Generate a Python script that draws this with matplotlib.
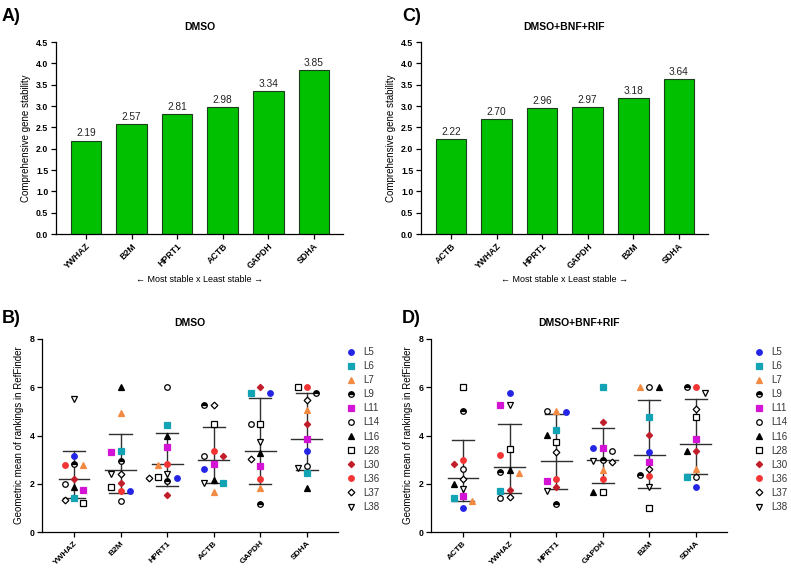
import numpy as np
import matplotlib
matplotlib.use("Agg")
import matplotlib.pyplot as plt
from matplotlib.lines import Line2D

plt.rcParams['font.family'] = ['Liberation Sans', 'DejaVu Sans']

# ---- data ----
lines = ['L5', 'L6', 'L7', 'L9', 'L11', 'L14', 'L16', 'L28', 'L30', 'L36', 'L37', 'L38']

genes_dmso = ['YWHAZ', 'B2M', 'HPRT1', 'ACTB', 'GAPDH', 'SDHA']
stab_dmso = [2.19, 2.57, 2.81, 2.98, 3.34, 3.85]

genes_mix = ['ACTB', 'YWHAZ', 'HPRT1', 'GAPDH', 'B2M', 'SDHA']
stab_mix = [2.22, 2.70, 2.96, 2.97, 3.18, 3.64]

# geometric mean of rankings per cell line (order as in `lines`)
dmso_ywhaz = [3.14, 1.43, 2.77, 2.81, 1.76, 2.00, 1.87, 1.19, 2.21, 2.79, 1.32, 5.50]
dmso_b2m = [1.71, 3.35, 4.93, 2.93, 3.32, 1.27, 6.00, 1.85, 2.03, 1.71, 2.42, 2.40]
dmso_hprt1 = [2.22, 4.44, 2.77, 2.10, 3.51, 6.00, 3.96, 2.30, 1.55, 2.83, 2.22, 2.39]
dmso_actb = [2.63, 2.05, 1.67, 5.25, 2.83, 3.17, 2.16, 4.46, 3.17, 3.35, 5.25, 2.05]
dmso_gapdh = [5.75, 5.75, 1.83, 1.15, 2.75, 4.47, 3.28, 4.47, 6.00, 2.20, 3.03, 3.72]
dmso_sdha = [3.35, 2.45, 5.05, 5.77, 3.85, 2.73, 1.84, 6.00, 4.47, 6.00, 5.46, 2.66]

mix_actb = [1.00, 1.40, 1.30, 5.00, 1.50, 2.60, 2.00, 6.00, 2.80, 3.00, 2.20, 1.80]
mix_ywhaz = [5.77, 1.68, 2.44, 2.48, 5.25, 1.40, 2.58, 3.42, 1.76, 3.18, 1.45, 5.25]
mix_hprt1 = [4.97, 4.24, 5.02, 1.15, 2.10, 5.02, 4.01, 3.72, 1.85, 2.19, 3.31, 1.72]
mix_gapdh = [3.47, 6.00, 2.58, 2.99, 3.47, 3.36, 1.67, 1.67, 4.56, 2.19, 2.90, 2.95]
mix_b2m = [3.31, 4.75, 6.00, 2.37, 2.90, 6.00, 6.00, 1.00, 4.01, 2.33, 2.63, 1.88]
mix_sdha = [1.85, 2.29, 2.60, 6.00, 3.86, 2.29, 3.35, 4.75, 3.35, 6.00, 5.09, 5.77]

ranks_dmso = [dmso_ywhaz, dmso_b2m, dmso_hprt1, dmso_actb, dmso_gapdh, dmso_sdha]
ranks_mix = [mix_actb, mix_ywhaz, mix_hprt1, mix_gapdh, mix_b2m, mix_sdha]

# marker style per cell line
styles = {
    'L5': dict(marker='o', markerfacecolor='#2424e6', markeredgecolor='#2424e6'),
    'L6': dict(marker='s', markerfacecolor='#12a3b5', markeredgecolor='#12a3b5'),
    'L7': dict(marker='^', markerfacecolor='#f28a44', markeredgecolor='#f28a44'),
    'L9': dict(marker='o', markerfacecolor='black', markerfacecoloralt='white',
               fillstyle='top', markeredgecolor='black'),
    'L11': dict(marker='s', markerfacecolor='#d414d4', markeredgecolor='#d414d4'),
    'L14': dict(marker='o', markerfacecolor='white', markeredgecolor='black'),
    'L16': dict(marker='^', markerfacecolor='black', markeredgecolor='black'),
    'L28': dict(marker='s', markerfacecolor='white', markeredgecolor='black'),
    'L30': dict(marker='D', markerfacecolor='#c21d2a', markeredgecolor='#c21d2a', markersize=3.2),
    'L36': dict(marker='o', markerfacecolor='#f23434', markeredgecolor='#f23434'),
    'L37': dict(marker='D', markerfacecolor='white', markeredgecolor='black', markersize=3.4),
    'L38': dict(marker='v', markerfacecolor='white', markeredgecolor='black'),
}

W, H = 791, 571
fig = plt.figure(figsize=(W / 100, H / 100), dpi=100)


def px_axes(left, top, right, bottom):
    return fig.add_axes([left / W, 1 - bottom / H, (right - left) / W, (bottom - top) / H])


def style_axis(ax):
    for s in ['top', 'right']:
        ax.spines[s].set_visible(False)
    for s in ['left', 'bottom']:
        ax.spines[s].set_linewidth(0.9)
    ax.tick_params(direction='out', length=3.5, width=0.9, pad=2)


def bar_panel(ax, genes, vals, title):
    x = np.arange(len(genes))
    ax.bar(x, vals, width=0.67, color='#00c000', edgecolor='#1a3f1a', linewidth=0.8)
    for xi, v in zip(x, vals):
        ax.text(xi, v + 0.05, f'{v:.2f}', ha='center', va='bottom', fontsize=7.3, color='#222222')
    ax.set_xlim(-0.66, len(genes) - 0.36)
    ax.set_ylim(0, 4.5)
    yt = np.arange(0, 4.51, 0.5)
    ax.set_yticks(yt, [f'{t:.1f}' for t in yt], fontsize=6.3, fontweight='bold')
    ax.set_xticks(x, genes, rotation=45, ha='right', rotation_mode='anchor',
                  fontsize=6.3, fontweight='bold')
    style_axis(ax)
    ax.set_ylabel('Comprehensive gene stability', fontsize=7)
    ax.set_title(title, fontsize=7.5, fontweight='bold', pad=9)
    ax.text(0.5, -0.235, '\u2190 Most stable x Least stable \u2192', transform=ax.transAxes,
            ha='center', va='center', fontsize=6.5)


def swarm(vals, dy=0.26, step=0.2):
    # simple beeswarm: put each point at the centre unless it overlaps a placed one
    order = np.argsort(vals)[::-1]
    offs = np.zeros(len(vals))
    placed = []
    cands = [0]
    for k in range(1, 5):
        cands += [-k * step, k * step]
    for i in order:
        for c in cands:
            if all(abs(vals[i] - v) >= dy or abs(c - o) >= step * 0.9 for v, o in placed):
                offs[i] = c
                placed.append((vals[i], c))
                break
    return offs


def dot_panel(ax, genes, means, ranks, title, leg_x):
    for gi, (m, r) in enumerate(zip(means, ranks)):
        r = np.array(r)
        gsd = np.exp(np.std(np.log(r), ddof=1))
        lo, hi = m / gsd, m * gsd
        ax.plot([gi, gi], [lo, hi], color='#303030', lw=1.0, zorder=2)
        for yv, hw in [(lo, 0.24), (hi, 0.24), (m, 0.33)]:
            ax.plot([gi - hw, gi + hw], [yv, yv], color='#303030', lw=1.0, zorder=2)
        offs = swarm(r)
        for li, name in enumerate(lines):
            kw = dict(markersize=4, markeredgewidth=0.9)
            kw.update(styles[name])
            ax.plot(gi + offs[li], r[li], linestyle='none', zorder=3, **kw)
    ax.set_xlim(-0.69, len(genes) - 0.33)
    ax.set_ylim(0, 8)
    ax.set_yticks([0, 2, 4, 6, 8], ['0', '2', '4', '6', '8'], fontsize=6.3, fontweight='bold')
    ax.set_xticks(np.arange(len(genes)), genes, rotation=45, ha='right', rotation_mode='anchor',
                  fontsize=6, fontweight='bold')
    style_axis(ax)
    ax.set_ylabel('Geometric mean of rankings in RefFinder', fontsize=7)
    ax.set_title(title, fontsize=7.5, fontweight='bold', pad=9)
    handles = []
    for name in lines:
        kw = dict(markersize=4, markeredgewidth=0.9)
        kw.update(styles[name])
        handles.append(Line2D([], [], linestyle='none', **kw))
    fig.legend(handles, lines, loc='upper left', bbox_to_anchor=(leg_x / W, 1 - 347 / H),
               frameon=False, fontsize=7, handlelength=1.0, handletextpad=0.75,
               labelspacing=0.42, borderaxespad=0.0, borderpad=0.0, labelcolor='#333333')


axA = px_axes(56, 42, 343, 234)
bar_panel(axA, genes_dmso, stab_dmso, 'DMSO')
axC = px_axes(421, 42, 708, 234)
bar_panel(axC, genes_mix, stab_mix, 'DMSO+BNF+RIF')

axB = px_axes(42, 339, 338, 532)
dot_panel(axB, genes_dmso, stab_dmso, ranks_dmso, 'DMSO', 346)
axD = px_axes(431, 339, 727, 532)
dot_panel(axD, genes_mix, stab_mix, ranks_mix, 'DMSO+BNF+RIF', 754)

for lab, xp, yp in [('A)', 2, 8), ('C)', 402, 8), ('B)', 2, 310), ('D)', 402, 310)]:
    fig.text(xp / W, 1 - yp / H, lab, fontsize=13, fontweight='bold', ha='left', va='top')

fig.savefig('out.png', dpi=100)
